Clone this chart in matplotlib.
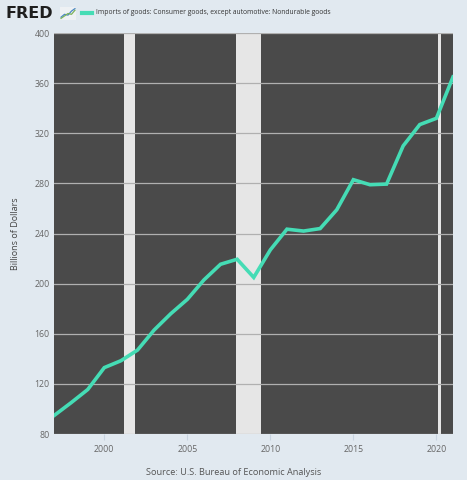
import matplotlib
matplotlib.use("Agg")
import matplotlib.pyplot as plt

plt.rcParams['font.family'] = ['Open Sans', 'DejaVu Sans']

# annual values, billions of dollars
years = list(range(1997, 2022))
imports = [95, 105, 115.5, 133, 138.5, 147, 163, 176, 187.5, 203, 215.5, 219.5,
           205, 227, 243.5, 242, 244, 259, 283, 279, 279.5, 310, 327, 332, 365]

recessions = [(2001.17, 2001.83), (2007.92, 2009.42), (2020.08, 2020.25)]
yticks = [80, 120, 160, 200, 240, 280, 320, 360, 400]
xticks = [2000, 2005, 2010, 2015, 2020]

bg = '#e1e9f0'
fig = plt.figure(figsize=(4.67, 4.8), dpi=100, facecolor=bg)
ax = fig.add_axes([0.1167, 0.0958, 0.8533, 0.8352])
ax.set_facecolor('#4a4a4a')

for start, end in recessions:
    ax.axvspan(start, end, color='#e6e6e6', lw=0, zorder=1)

ax.set_yticks(yticks)
ax.grid(axis='y', color='#b0b0b0', lw=0.9, zorder=2)
ax.plot(years, imports, color='#45dcb5', lw=2.6, zorder=3, solid_joinstyle='miter')

ax.set_xlim(1997, 2021)
ax.set_ylim(80, 400)
ax.set_xticks(xticks)
ax.tick_params(axis='both', labelsize=6.3, colors='#666666', length=0)
ax.tick_params(axis='x', pad=4, length=4, color='#c8d4e0', direction='out')
for s in ax.spines.values():
    s.set_visible(False)
ax.set_ylabel('Billions of Dollars', fontsize=6.5, color='#444444', labelpad=10)

# header: logo + legend
fig.text(0.011, 0.972, 'FRED', fontsize=11.5, fontweight='heavy', color='#1e1e1e',
         va='center', ha='left', family='DejaVu Sans')
icon = fig.add_axes([60 / 467, 1 - 20 / 480, 16 / 467, 13 / 480])
icon.set_facecolor('#eef1f4')
icon.plot([0, 1, 2, 3, 4], [0.5, 1.2, 1.0, 2.0, 2.6], color='#4a86c8', lw=0.9)
icon.plot([0, 1, 2, 3, 4], [0.2, 0.8, 1.4, 1.2, 2.2], color='#7cb25a', lw=0.9)
icon.set_xlim(-0.3, 4.3)
icon.set_ylim(-0.2, 3)
icon.set_xticks([])
icon.set_yticks([])
for s in icon.spines.values():
    s.set_visible(False)

fig.lines.append(plt.Line2D([0.176, 0.197], [0.973, 0.973], color='#45dcb5',
                            lw=3, transform=fig.transFigure))
fig.text(0.205, 0.973, 'Imports of goods: Consumer goods, except automotive: Nondurable goods',
         fontsize=4.9, color='#333333', va='center', ha='left')
fig.text(0.5, 0.0146, 'Source: U.S. Bureau of Economic Analysis', fontsize=6.6,
         color='#555555', ha='center', va='center')

fig.savefig('out.png', dpi=100, facecolor=bg)
